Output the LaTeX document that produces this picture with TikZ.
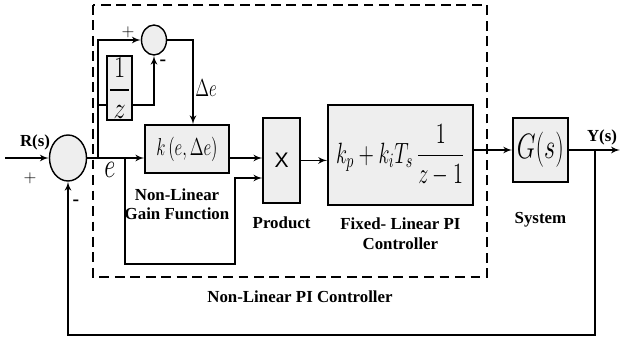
\documentclass[tikz,border=0pt]{standalone}
\usepackage{amsmath}
\usepackage{graphicx}
\usepackage{fontspec}
\setmainfont{Liberation Serif}
\setsansfont{Liberation Sans}
\usepackage{xcolor}
\definecolor{blockgray}{RGB}{238, 238, 238}
\usepackage{tikz}
\usetikzlibrary{shapes.geometric, arrows, positioning, calc}
\newcommand{\tallmath}[1]{\scalebox{1}[1.45]{#1}}

\begin{document}
\begin{tikzpicture}[
        block/.style={rectangle, draw=black, fill=blockgray, line width=1pt, inner sep=0pt},
        junction/.style={ellipse, draw=black, fill=blockgray, line width=1pt, inner sep=0pt},
        caption/.style={font=\fontsize{12}{14}\selectfont\bfseries, align=center, inner sep=1pt},
        sign/.style={font=\fontsize{13}{14}\selectfont, inner sep=0pt},
        wire/.style={draw=black, line width=1.2pt},
        line/.style={draw=black, -latex', line width=1.2pt}]

        \useasboundingbox (0,0) rectangle (15.5,-8.575);

        \draw [line width=1.2pt, dash pattern=on 7pt off 4pt] (2.325,-0.125) rectangle (12.175,-6.925);

        \node [junction, minimum width=0.925cm, minimum height=1.15cm] (sum) at (1.7,-3.95) {};
        \node [junction, minimum width=0.625cm, minimum height=0.75cm] (diff) at (3.85,-1.0) {};
        \node [block, minimum width=0.625cm, minimum height=1.6cm, font=\fontsize{17}{19}\selectfont] (delay) at (2.99,-2.2) {\scalebox{1}[1.25]{$\dfrac{\,1\,}{z}$}};
        \node [block, minimum width=2.1cm, minimum height=1.2cm, font=\fontsize{13}{15}\selectfont] (gain) at (4.675,-3.725) {\tallmath{$k\,(e,\Delta e)$}};
        \node [block, minimum width=0.925cm, minimum height=2.125cm, font=\fontsize{15}{17}\selectfont\sffamily] (prod) at (7.04,-4.01) {X};
        \node [block, minimum width=3.625cm, minimum height=2.5cm, font=\fontsize{14}{16}\selectfont] (pi) at (10.01,-3.875) {\tallmath{$k_p + k_i T_s\,\dfrac{1}{z-1}$}};
        \node [block, minimum width=1.375cm, minimum height=1.6cm, font=\fontsize{18}{20}\selectfont] (plant) at (13.51,-3.75) {\tallmath{$G(s)$}};

        \node [caption, below=0.33cm of gain, xshift=-0.25cm] (gainlbl) {Non-Linear\\Gain Function};
        \node [caption, below=0.3cm of prod] (prodlbl) {Product};
        \node [caption, below=0.27cm of pi] (pilbl) {Fixed- Linear PI\\Controller};
        \node [caption, below=0.7cm of plant] (plantlbl) {System};
        \node [caption] (ctrllbl) at (7.5,-7.425) {Non-Linear PI Controller};
        \node [caption] (rlbl) at (0.875,-3.55) {R(s)};
        \node [caption] (ylbl) at (15.05,-3.425) {Y(s)};

        \node [sign] (inplus) at (0.75,-4.45) {$+$};
        \node [sign, font=\fontsize{14}{14}\selectfont\bfseries] (fbminus) at (1.9,-5.075) {-};
        \node [sign] (diffplus) at (3.2,-0.8) {$+$};
        \node [sign, font=\fontsize{14}{14}\selectfont\bfseries] (diffminus) at (4.075,-1.575) {-};
        \node [sign] (delbl) at (5.15,-2.2) {\tallmath{$\Delta e$}};
        \node [sign, font=\fontsize{16}{16}\selectfont] (elbl) at (2.75,-4.25) {\tallmath{$e$}};

        \coordinate (rin) at (0.125,-3.95);
        \coordinate (ebr) at (2.45,-3.95);
        \coordinate (dtap) at (2.45,-2.625);
        \coordinate (pbr) at (3.125,-3.95);
        \coordinate (ybr) at (14.875,-3.75);
        \coordinate (yout) at (15.5,-3.75);

        \path [line] (rin) -- (sum);
        \path [line] (sum) -- (sum -| gain.west);
        \path [line] (ebr) |- (diff);
        \path [wire] (dtap) -- (dtap -| delay.west);
        \path [line] (dtap -| delay.east) -| (diff);
        \path [line] (diff) -| ($(gain.north)+(0.15,0)$);
        \path [line] (sum -| gain.east) -- (sum -| prod.west);
        \path [line] (pbr) |- (5.875,-6.6) |- ($(prod.west)+(0,-0.44)$);
        \path [line] (prod) -- (prod -| pi.west);
        \path [line] (plant -| pi.east) -- (plant);
        \path [line] (plant) -- (yout);
        \path [line] (ybr) -- ++(0,-4.625) -| (sum);
    \end{tikzpicture}
\end{document}
